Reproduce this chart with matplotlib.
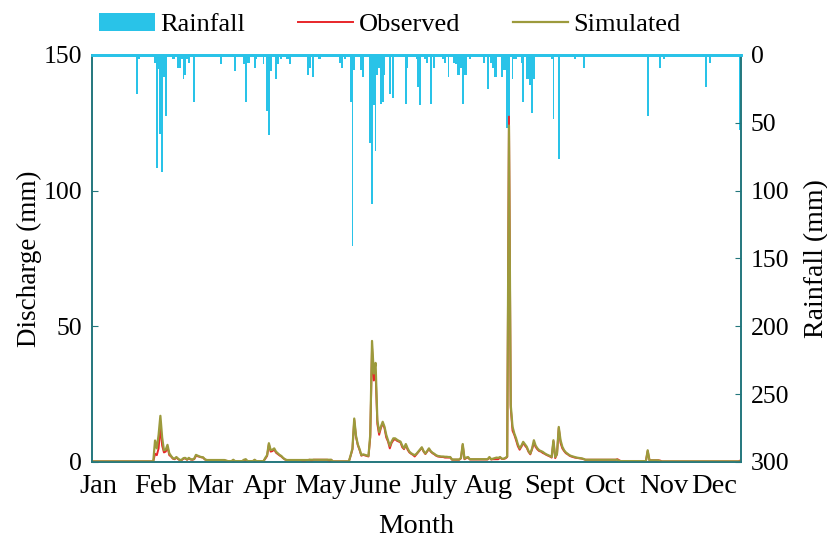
import numpy as np
import matplotlib
matplotlib.use("Agg")
import matplotlib.pyplot as plt

plt.rcParams['font.family'] = ['Liberation Serif', 'DejaVu Serif']

# daily index 0..364
days = np.arange(365)

# rainfall (mm), only the days with rain
rain_days = [9, 18, 25, 26, 35, 36, 37, 38, 39, 40, 41, 42, 45, 46, 48, 49, 50, 51, 52, 53,
             54, 57, 72, 80, 85, 86, 87, 88, 91, 92, 93, 96, 98, 99, 100, 103, 104, 106, 109, 110,
             111, 121, 122, 124, 125, 127, 128, 131, 132, 139, 140, 142, 145, 146, 147, 151, 152, 156, 157, 158,
             159, 160, 161, 162, 163, 164, 167, 169, 170, 171, 172, 173, 174, 175, 176, 177, 182, 183, 184, 187,
             188, 190, 192, 197, 198, 200, 203, 204, 205, 206, 207, 208, 209, 210, 212, 215, 220, 222, 224, 225,
             226, 227, 230, 231, 232, 233, 234, 236, 237, 238, 241, 242, 243, 244, 245, 246, 247, 248, 258, 259,
             262, 266, 271, 276, 312, 318, 319, 321, 327, 334, 345, 347, 364]
rain_mm = [1.7, 1.7, 29, 3, 5.6, 83.5, 10.5, 58.5, 86, 16, 44.7, 1.7, 3, 3, 9.3, 9.3, 3, 18, 14.5, 3,
           5.6, 34.4, 7, 12, 7, 34.4, 5.6, 5.6, 9.3, 3, 1.7, 7, 41, 58.7, 12, 18, 7, 3, 3, 3,
           7, 14.5, 9.3, 16, 1.7, 3, 3, 1.7, 1.7, 5.6, 9.3, 3, 34.4, 141, 11, 11, 16, 64.6, 109.6, 37,
           71, 14.5, 9.3, 36, 34.4, 14.5, 29, 32, 1, 1, 1.7, 1.7, 1.7, 1.7, 36, 9.3, 3, 23.3, 37, 3,
           5.6, 36, 9.3, 3, 5.6, 16, 5.6, 7, 14.5, 14.5, 9.3, 36, 14.5, 14.5, 3, 1.7, 5.6, 25, 5.6, 9.3,
           16, 16, 16, 11, 11, 53.6, 53.6, 18, 3, 3, 5.6, 34.4, 1.7, 18, 18, 22, 43, 18, 3, 47,
           77, 1.7, 3, 9.3, 44.7, 1.7, 9.3, 3, 1.7, 1.7, 23.3, 5.6, 55]

# simulated discharge (mm), daily
simulated = [
    0.2, 0.2, 0.2, 0.2, 0.2, 0.2, 0.2, 0.2, 0.2, 0.2,
    0.2, 0.2, 0.2, 0.2, 0.2, 0.2, 0.2, 0.2, 0.2, 0.2,
    0.2, 0.2, 0.2, 0.2, 0.2, 0.2, 0.2, 0.2, 0.2, 0.2,
    0.2, 0.2, 0.2, 0.2, 0.2, 7.9, 5.0, 10.0, 17.0, 9.0,
    4.3, 4.5, 6.3, 3.2, 2.2, 1.4, 1.2, 1.8, 1.2, 0.7,
    0.8, 1.4, 1.5, 0.9, 1.5, 1.0, 0.9, 1.2, 2.6, 2.3,
    2.0, 1.8, 1.7, 1.0, 0.7, 0.7, 0.7, 0.7, 0.7, 0.7,
    0.7, 0.7, 0.7, 0.7, 0.7, 0.5, 0.3, 0.3, 0.3, 0.8,
    0.3, 0.3, 0.3, 0.3, 0.3, 0.8, 1.0, 0.3, 0.3, 0.3,
    0.3, 0.8, 0.3, 0.3, 0.3, 0.3, 0.3, 1.5, 2.5, 6.9,
    4.4, 4.5, 5.0, 3.8, 3.2, 2.6, 2.2, 1.5, 1.0, 0.7,
    0.7, 0.7, 0.7, 0.7, 0.7, 0.7, 0.7, 0.7, 0.7, 0.7,
    0.7, 0.7, 0.8, 0.8, 0.8, 0.8, 0.8, 0.8, 0.8, 0.8,
    0.8, 0.8, 0.8, 0.8, 0.8, 0.2, 0.2, 0.2, 0.2, 0.2,
    0.2, 0.2, 0.2, 0.2, 0.2, 2.5, 5.0, 16.0, 9.6, 6.5,
    4.7, 2.5, 2.8, 2.6, 2.4, 2.2, 10.0, 44.6, 32.6, 36.5,
    15.4, 11.0, 13.0, 14.8, 13.0, 10.0, 8.0, 5.9, 7.5, 8.7,
    8.7, 8.2, 7.8, 7.5, 6.0, 5.0, 6.6, 5.0, 3.8, 3.2,
    2.8, 2.5, 3.0, 3.8, 4.6, 5.4, 4.0, 3.1, 4.0, 5.0,
    4.0, 3.4, 3.0, 2.5, 2.2, 2.1, 2.0, 2.0, 1.9, 1.9,
    1.8, 1.8, 0.9, 0.9, 0.9, 0.9, 0.9, 1.5, 6.6, 1.2,
    1.6, 1.8, 1.0, 1.0, 1.0, 1.0, 1.0, 1.0, 1.0, 1.0,
    1.0, 1.0, 1.0, 1.8, 1.0, 1.2, 1.4, 1.6, 1.5, 1.8,
    1.2, 1.2, 1.5, 2.0, 124.0, 21.0, 13.0, 10.5, 8.7, 6.5,
    5.0, 6.0, 7.4, 6.5, 5.6, 4.0, 3.1, 5.0, 8.0, 6.0,
    5.0, 4.3, 4.0, 3.7, 3.2, 2.8, 2.5, 2.2, 1.8, 8.0,
    1.8, 3.0, 12.9, 8.0, 5.6, 4.3, 3.5, 3.0, 2.5, 2.2,
    2.0, 1.8, 1.6, 1.5, 1.4, 1.3, 1.1, 0.8, 0.8, 0.8,
    0.8, 0.8, 0.8, 0.8, 0.8, 0.8, 0.8, 0.8, 0.8, 0.8,
    0.8, 0.8, 0.8, 0.8, 0.8, 0.8, 0.3, 0.3, 0.3, 0.3,
    0.3, 0.3, 0.3, 0.3, 0.3, 0.3, 0.3, 0.3, 0.3, 0.3,
    0.3, 0.3, 4.3, 0.6, 0.6, 0.6, 0.6, 0.6, 0.6, 0.2,
    0.2, 0.2, 0.2, 0.2, 0.2, 0.2, 0.2, 0.2, 0.2, 0.2,
    0.2, 0.2, 0.2, 0.2, 0.2, 0.2, 0.2, 0.2, 0.2, 0.2,
    0.2, 0.2, 0.2, 0.2, 0.2, 0.2, 0.2, 0.2, 0.2, 0.2,
    0.2, 0.2, 0.2, 0.2, 0.2, 0.2, 0.2, 0.2, 0.2, 0.2,
    0.2, 0.2, 0.2, 0.2, 0.2,
]

# observed discharge (mm), daily
observed = [
    0.2, 0.2, 0.2, 0.2, 0.2, 0.2, 0.2, 0.2, 0.2, 0.2,
    0.2, 0.2, 0.2, 0.2, 0.2, 0.2, 0.2, 0.2, 0.2, 0.2,
    0.2, 0.2, 0.2, 0.2, 0.2, 0.2, 0.2, 0.2, 0.2, 0.2,
    0.2, 0.2, 0.2, 0.2, 0.2, 3.0, 2.5, 5.0, 13.0, 6.0,
    3.5, 3.8, 5.5, 2.5, 2.0, 1.2, 1.0, 1.6, 1.0, 0.6,
    0.7, 1.2, 1.3, 0.8, 1.3, 0.9, 0.8, 1.0, 2.2, 2.1,
    1.9, 1.7, 1.6, 0.9, 0.7, 0.7, 0.7, 0.7, 0.7, 0.7,
    0.7, 0.7, 0.7, 0.7, 0.6, 0.4, 0.1, 0.1, 0.3, 0.6,
    0.1, 0.3, 0.3, 0.1, 0.3, 0.6, 0.8, 0.1, 0.3, 0.3,
    0.3, 0.6, 0.3, 0.1, 0.3, 0.3, 0.3, 1.2, 2.2, 6.5,
    3.8, 4.0, 4.6, 3.4, 2.9, 2.4, 2.0, 1.4, 0.9, 0.7,
    0.7, 0.7, 0.7, 0.7, 0.7, 0.7, 0.7, 0.7, 0.2, 0.2,
    0.7, 0.7, 0.8, 0.4, 0.8, 0.8, 0.8, 0.8, 0.8, 0.8,
    0.8, 0.8, 0.8, 0.3, 0.8, 0.2, 0.2, 0.2, 0.2, 0.2,
    0.2, 0.2, 0.2, 0.2, 0.2, 2.3, 4.6, 15.5, 9.2, 6.2,
    4.4, 2.3, 2.6, 2.4, 2.2, 2.0, 9.0, 42.0, 30.0, 33.0,
    14.0, 10.0, 12.5, 14.2, 12.5, 9.0, 7.5, 5.0, 7.0, 8.0,
    8.4, 7.8, 7.5, 7.2, 5.4, 4.7, 6.3, 4.5, 3.5, 3.0,
    2.6, 2.0, 2.8, 3.6, 4.4, 5.2, 3.8, 2.9, 3.8, 4.8,
    3.8, 3.2, 2.8, 2.3, 2.0, 1.9, 1.8, 1.8, 1.6, 1.6,
    1.6, 1.6, 0.8, 0.8, 0.8, 0.8, 0.8, 1.3, 6.3, 1.0,
    1.4, 1.6, 0.9, 0.9, 0.9, 0.9, 0.9, 0.9, 0.9, 0.9,
    0.9, 0.9, 0.9, 1.6, 0.9, 1.0, 1.0, 1.0, 1.0, 1.6,
    1.1, 1.1, 1.3, 1.8, 127.3, 20.0, 11.5, 10.0, 8.0, 5.8,
    4.5, 5.6, 7.0, 6.0, 5.2, 3.7, 2.8, 4.7, 7.0, 5.5,
    4.6, 4.0, 3.8, 3.3, 3.0, 2.6, 2.3, 2.0, 1.6, 7.6,
    1.4, 2.8, 12.5, 7.0, 5.0, 4.0, 3.2, 2.8, 2.3, 2.0,
    1.8, 1.6, 1.5, 1.4, 1.3, 1.2, 1.0, 0.8, 0.8, 0.8,
    0.8, 0.8, 0.8, 0.8, 0.8, 0.8, 0.8, 0.8, 0.8, 0.8,
    0.8, 0.8, 0.8, 0.8, 0.8, 1.0, 0.6, 0.3, 0.3, 0.3,
    0.3, 0.3, 0.3, 0.3, 0.3, 0.3, 0.3, 0.3, 0.3, 0.3,
    0.3, 0.3, 4.0, 0.6, 0.6, 0.6, 0.6, 0.6, 0.6, 0.5,
    0.2, 0.2, 0.2, 0.2, 0.2, 0.2, 0.2, 0.2, 0.2, 0.2,
    0.2, 0.2, 0.2, 0.2, 0.2, 0.2, 0.2, 0.2, 0.2, 0.2,
    0.2, 0.2, 0.2, 0.2, 0.2, 0.2, 0.2, 0.2, 0.2, 0.2,
    0.2, 0.2, 0.2, 0.2, 0.2, 0.2, 0.2, 0.2, 0.2, 0.2,
    0.2, 0.2, 0.2, 0.2, 0.5,
]

months = ['Jan', 'Feb', 'Mar', 'Apr', 'May', 'June', 'July', 'Aug', 'Sept', 'Oct', 'Nov', 'Dec']
month_pos = [3, 35.5, 66, 96.5, 128, 159, 192, 222.5, 256.5, 288.5, 321, 349.5]

rain = np.zeros(365)
rain[rain_days] = rain_mm

fig = plt.figure(figsize=(8.28, 5.39), dpi=100)
ax = fig.add_axes([0.111, 0.143, 0.784, 0.755])
ax2 = ax.twinx()

bar_col = '#29c3e8'
spine_col = '#23777d'

b = ax2.bar(days, rain, width=1.0, color=bar_col, label='Rainfall')
ax2.set_ylim(300, 0)
ax2.set_yticks(np.arange(0, 301, 50))
ax2.set_ylabel('Rainfall (mm)', fontsize=20)
ax2.yaxis.set_label_coords(1.097, 0.5)

l1, = ax.plot(days, observed, color='#e8262a', lw=1.4, label='Observed')
l2, = ax.plot(days, simulated, color='#9c9a3c', lw=1.6, label='Simulated')
ax.set_zorder(ax2.get_zorder() + 1)
ax.patch.set_visible(False)

ax.set_xlim(-0.5, 364.5)
ax.set_ylim(0, 150)
ax.set_yticks([0, 50, 100, 150])
ax.set_ylabel('Discharge (mm)', fontsize=19.5)
ax.yaxis.set_label_coords(-0.077, 0.5)
ax.set_xlabel('Month', fontsize=20.5)
ax.xaxis.set_label_coords(0.5, -0.127)
ax.set_xticks(month_pos)
ax.set_xticklabels(months)

for a in (ax, ax2):
    a.tick_params(axis='y', direction='in', length=4, labelsize=18.5, color=spine_col, pad=7)
    a.tick_params(axis='x', length=0, labelsize=20.5, pad=9)
    for s in a.spines.values():
        s.set_color(spine_col)
        s.set_linewidth(1.2)
    a.spines['top'].set_color(bar_col)
    a.spines['top'].set_linewidth(2)

fig.legend([b, l1, l2], ['Rainfall', 'Observed', 'Simulated'], loc='center',
           bbox_to_anchor=(0.471, 0.955), ncol=3, frameon=False, fontsize=19,
           handlelength=2.1, columnspacing=2.0, handletextpad=0.2)

fig.savefig('out.png', dpi=100)
